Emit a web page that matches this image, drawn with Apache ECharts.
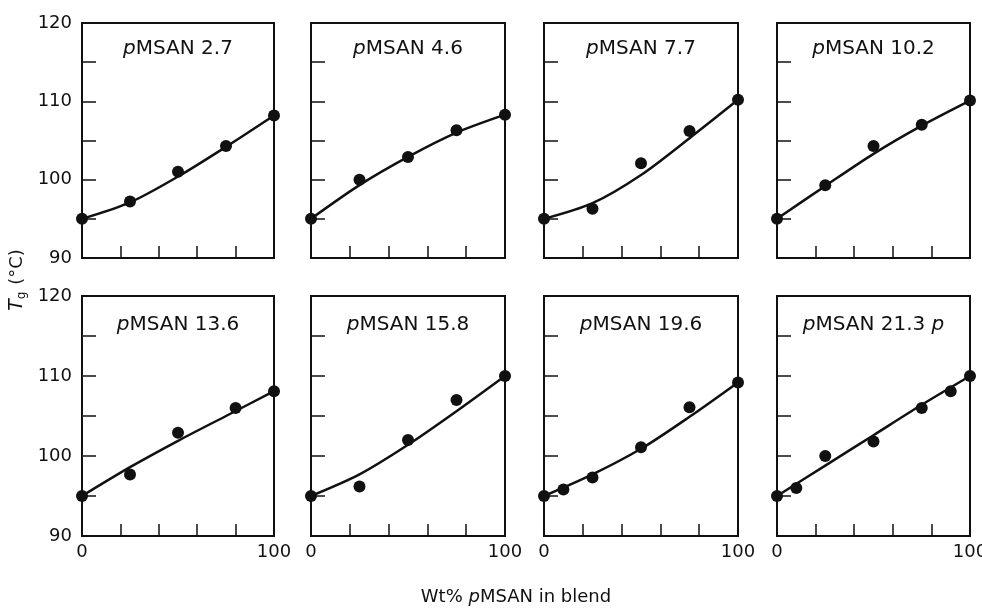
<!DOCTYPE html>
<html>
<head>
<meta charset="utf-8">
<script src="https://cdn.jsdelivr.net/npm/echarts@6/dist/echarts.min.js"></script>
<style>
  html, body { margin: 0; padding: 0; background: #fff; }
  #chart { width: 982px; height: 609px; }
</style>
</head>
<body>
<div id="chart"></div>
<script>
// panel labels (pMSAN grade)
const panelTitles = ['2.7', '4.6', '7.7', '10.2', '13.6', '15.8', '19.6', '21.3 {i|p}'];

// measured points: wt% pMSAN in blend vs Tg (°C)
const pointsX = [
  [0, 25, 50, 75, 100],
  [0, 25, 50, 75, 100],
  [0, 25, 50, 75, 100],
  [0, 25, 50, 75, 100],
  [0, 25, 50, 80, 100],
  [0, 25, 50, 75, 100],
  [0, 10, 25, 50, 75, 100],
  [0, 10, 25, 50, 75, 90, 100]
];
const pointsY = [
  [95, 97.2, 101, 104.3, 108.2],
  [95, 100, 102.9, 106.3, 108.3],
  [95, 96.3, 102.1, 106.2, 110.2],
  [95, 99.3, 104.3, 107, 110.1],
  [95, 97.7, 102.9, 106, 108.1],
  [95, 96.2, 102, 107, 110],
  [95, 95.8, 97.3, 101.1, 106.1, 109.2],
  [95, 96, 100, 101.8, 106, 108.1, 110]
];

// fitted curves
const curveX = [0, 25, 50, 75, 100];
const curveY = [
  [95, 97.1, 100.4, 104.2, 108.2],
  [95, 99.3, 102.9, 106.0, 108.3],
  [95, 97.0, 100.6, 105.3, 110.2],
  [95, 99.2, 103.3, 106.9, 110.1],
  [95, 98.6, 101.9, 105.0, 108.1],
  [95, 97.7, 101.4, 105.6, 110.0],
  [95, 97.7, 100.9, 104.9, 109.2],
  [95, 98.8, 102.6, 106.4, 110.0]
];

const xTickLabels = [0, 100];
const yTickLabels = [90, 100, 110, 120];

const FONT = 'DejaVu Sans';
const INK = '#111';

const colLeft = [82, 311, 544, 777];
const colWidth = [192, 194, 194, 193];
const rowTop = [23, 296];
const rowHeight = [235, 240];

const chart = echarts.init(document.getElementById('chart'));

const grids = [], xAxes = [], yAxes = [], series = [], graphics = [];

for (let i = 0; i < 8; i++) {
  const r = Math.floor(i / 4), c = i % 4;
  grids.push({
    left: colLeft[c], top: rowTop[r], width: colWidth[c], height: rowHeight[r],
    outerBoundsMode: 'none', containLabel: false,
    show: true, borderColor: INK, borderWidth: 2, backgroundColor: 'transparent'
  });
  xAxes.push({
    gridIndex: i, type: 'value', min: 0, max: 100, interval: 20,
    axisLine: { show: false },
    splitLine: { show: false },
    axisTick: { inside: true, length: 12, lineStyle: { color: INK, width: 1.5 } },
    axisLabel: {
      show: r === 1, margin: 7, showMinLabel: true, showMaxLabel: true,
      color: INK, fontFamily: FONT, fontSize: 18,
      formatter: v => xTickLabels.indexOf(v) >= 0 ? String(v) : ''
    }
  });
  yAxes.push({
    gridIndex: i, type: 'value', min: 90, max: 120, interval: 5,
    axisLine: { show: false },
    splitLine: { show: false },
    axisTick: { inside: true, length: 14, lineStyle: { color: INK, width: 1.5 } },
    axisLabel: {
      show: c === 0, margin: 10, showMinLabel: true, showMaxLabel: true,
      color: INK, fontFamily: FONT, fontSize: 18,
      formatter: v => yTickLabels.indexOf(v) >= 0 ? String(v) : ''
    }
  });
  series.push({
    type: 'line', xAxisIndex: i, yAxisIndex: i, smooth: 0.3,
    showSymbol: false, silent: true,
    lineStyle: { color: INK, width: 2.5 },
    data: curveX.map((x, k) => [x, curveY[i][k]])
  });
  series.push({
    type: 'scatter', xAxisIndex: i, yAxisIndex: i, symbolSize: 12, z: 3,
    itemStyle: { color: INK, opacity: 1 },
    data: pointsX[i].map((x, k) => [x, pointsY[i][k]])
  });
  graphics.push({
    type: 'text',
    x: colLeft[c] + colWidth[c] / 2,
    y: r === 0 ? 49 : 325,
    style: {
      text: '{i|p}MSAN ' + panelTitles[i],
      font: '20px "' + FONT + '"',
      fill: INK, align: 'center', verticalAlign: 'middle',
      rich: { i: { fontStyle: 'italic', fontSize: 20, fontFamily: FONT, color: INK } }
    }
  });
}

// axis titles
graphics.push({
  type: 'text', x: 17, y: 280, rotation: Math.PI / 2,
  style: {
    text: '{t|T}{s|g} (°C)',
    font: '18px "' + FONT + '"',
    fill: INK, align: 'center', verticalAlign: 'middle',
    rich: {
      t: { fontStyle: 'italic', fontSize: 19, fontFamily: FONT, color: INK },
      s: { fontSize: 12, fontFamily: FONT, color: INK, padding: [10, 1, 0, 0] }
    }
  }
});
graphics.push({
  type: 'text', x: 516, y: 597,
  style: {
    text: 'Wt% {i|p}MSAN in blend',
    font: '18px "' + FONT + '"',
    fill: INK, align: 'center', verticalAlign: 'middle',
    rich: { i: { fontStyle: 'italic', fontSize: 18, fontFamily: FONT, color: INK } }
  }
});

chart.setOption({
  animation: false,
  backgroundColor: '#fff',
  grid: grids,
  xAxis: xAxes,
  yAxis: yAxes,
  series: series,
  graphic: graphics
});
</script>
</body>
</html>
